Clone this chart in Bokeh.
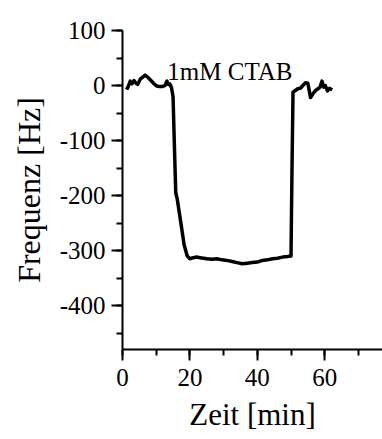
from bokeh.plotting import figure
from bokeh.models import Range1d, SingleIntervalTicker, Label
from bokeh.embed import file_html
from bokeh.resources import INLINE

# Data: time [min] and frequency shift [Hz]
zeit = [1.0, 1.5, 2.3, 2.8, 3.4, 4.0, 4.5, 5.3, 6.0, 6.7, 7.5, 8.3, 9.2, 10.2,
        11.0, 11.8, 12.6, 13.2, 13.6, 14.0, 14.5, 15.0, 15.4, 15.8, 16.2, 17.2,
        18.3, 19.2, 20.0, 21.0, 22.0, 23.0, 24.0, 25.0, 26.5, 28.0, 29.5, 31.0,
        32.5, 34.0, 35.5, 37.0, 38.5, 40.0, 41.5, 43.0, 44.5, 46.0, 47.5, 49.0,
        50.0, 50.3, 50.6, 51.3, 52.0, 52.8, 53.5, 54.3, 55.0, 55.8, 56.5, 57.3,
        58.0, 58.6, 59.2, 59.7, 60.2, 60.8, 61.4, 62.2]
frequenz = [-3, -5, 8, 3, 9, 4, 2, 12, 15, 19, 15, 10, 4, -1,
            -2, -2, 0, 8, 2, 3, -3, -20, -110, -195, -205, -245,
            -290, -310, -315, -313, -312, -313, -314, -315, -316, -315, -317, -318,
            -320, -322, -324, -323, -322, -321, -318, -317, -315, -314, -312, -311,
            -310, -150, -12, -9, -6, -5, 0, 5, 4, -22, -15, -9,
            -6, -3, 8, -3, 0, -10, -5, -8]

x_ticks = [0, 20, 40, 60]
x_tick_labels = ["0", "20", "40", "60"]
y_ticks = [-400, -300, -200, -100, 0, 100]
y_tick_labels = ["-400", "-300", "-200", "-100", "0", "100"]

x_label = "Zeit [min]"
y_label = "Frequenz [Hz]"
annotation = "1mM CTAB"

FONT = "'Liberation Serif', 'Times New Roman', 'DejaVu Serif', serif"

p = figure(width=382, height=439,
           output_backend="svg", toolbar_location=None,
           x_range=Range1d(0, 77.15), y_range=Range1d(-480, 100),
           min_border_left=122, min_border_right=0, min_border_top=30,
           min_border_bottom=90)
p.outline_line_color = None
p.xgrid.visible = False
p.ygrid.visible = False
p.background_fill_color = "white"
p.border_fill_color = "white"

p.line(zeit, frequenz, line_color="black", line_width=3.5, line_join="round")

p.xaxis.ticker = SingleIntervalTicker(interval=20, num_minor_ticks=2)
p.yaxis.ticker = SingleIntervalTicker(interval=100, num_minor_ticks=2)
p.xaxis.major_label_overrides = dict(zip(x_ticks, x_tick_labels))
p.yaxis.major_label_overrides = dict(zip(y_ticks, y_tick_labels))

for ax in (p.xaxis[0], p.yaxis[0]):
    ax.axis_line_width = 2
    ax.axis_line_color = "black"
    ax.major_tick_line_width = 2
    ax.minor_tick_line_width = 2
    ax.major_tick_in = 0
    ax.minor_tick_in = 0
    ax.major_tick_out = 11
    ax.minor_tick_out = 6
    ax.major_label_text_font = FONT
    ax.major_label_text_font_size = "25px"
    ax.major_label_text_color = "black"
    ax.axis_label_text_font = FONT
    ax.axis_label_text_font_style = "normal"
    ax.axis_label_text_color = "black"

p.xaxis.major_label_standoff = 8
p.yaxis.major_label_standoff = 6

p.yaxis.axis_label = y_label
p.yaxis.axis_label_text_font_size = "32px"
p.yaxis.axis_label_standoff = 10

p.xaxis.axis_label = x_label
p.xaxis.axis_label_text_font_size = "31px"
p.xaxis.axis_label_standoff = 8

p.add_layout(Label(x=13.3, y=25, text=annotation, text_align="left",
                   text_baseline="alphabetic", text_font=FONT,
                   text_font_size="25px", text_color="black"))

open("out.html", "w").write(file_html(p, INLINE))
